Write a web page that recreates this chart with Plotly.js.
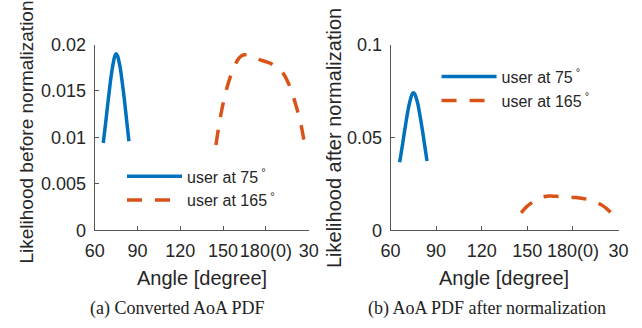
<!DOCTYPE html>
<html>
<head>
<meta charset="utf-8">
<script src="https://cdn.plot.ly/plotly-3.0.1.min.js"></script>
<style>html,body{margin:0;padding:0;background:#fff;}#chart{width:642px;height:328px;}</style>
</head>
<body>
<div id="chart"></div>
<script>
// Angles (degrees, 180 onwards wraps: 210 shown as "30")
const blueAngles = [66,67,68,69,70,71,72,73,74,75,76,77,78,79,80,81,82,83,84];
const blueBefore = [0.0094,0.0107,0.0120,0.0134,0.0147,0.0160,0.0171,0.0180,0.0187,0.0190,0.0188,0.0182,0.0174,0.0163,0.0151,0.0138,0.0124,0.0110,0.0096];
const blueAfter  = [0.0367,0.0417,0.0468,0.0523,0.0573,0.0624,0.0667,0.0702,0.0729,0.0741,0.0733,0.0710,0.0679,0.0636,0.0589,0.0538,0.0484,0.0429,0.0374];

const orangeAngles = [145,147,149,151,153,155,157,159,161,163,165,167,169,171,173,175,177,179,181,183,185,187,189,191,193,195,197,199,201,203,205,207];
const orangeBefore = [0.0092,0.0112,0.0129,0.0143,0.0155,0.0165,0.0173,0.0180,0.0185,0.0188,0.0189,0.0189,0.0188,0.0186,0.0185,0.0184,0.0183,0.0182,0.0181,0.0180,0.0178,0.0176,0.0173,0.0171,0.0167,0.0161,0.0154,0.0145,0.0135,0.0124,0.0111,0.0094];
const orangeAfterAngles = [146,148,150,152,154,156,158,160,162,164,166,168,170,172,174,176,178,180,182,184,186,188,190,192,194,196,198,200,202,204,205];
const orangeAfter = [0.0095,0.0115,0.0131,0.0144,0.0156,0.0166,0.0174,0.0180,0.0183,0.0185,0.0185,0.0184,0.0183,0.0182,0.0181,0.0180,0.0179,0.0178,0.0177,0.0175,0.0173,0.0170,0.0167,0.0162,0.0156,0.0149,0.0141,0.0131,0.0119,0.0104,0.0096];

const xTickVals = [60,90,120,150,180,210];
const xTickText = ['60','90','120','150','180(0)','30'];
const yTickVals1 = [0,0.005,0.01,0.015,0.02];
const yTickText1 = ['0','0.005','0.01','0.015','0.02'];
const yTickVals2 = [0,0.05,0.1];
const yTickText2 = ['0','0.05','0.1'];

const seriesNames = ['user at 75<sup> °</sup>','user at 165<sup> °</sup>'];
const captions = ['(a) Converted AoA PDF','(b) AoA PDF after normalization'];
const yTitles = ['Likelihood before normalization','Likelihood after normalization'];
const xTitle = 'Angle [degree]';

const BLUE = '#0072BD', ORANGE = '#D95319';
const lineW = 3.5;
const dashPat = '15px,13px';

const traces = [
  {x: blueAngles, y: blueBefore, xaxis:'x', yaxis:'y', mode:'lines', name: seriesNames[0],
   line:{color:BLUE, width:lineW, shape:'spline'}, legend:'legend'},
  {x: orangeAngles, y: orangeBefore, xaxis:'x', yaxis:'y', mode:'lines', name: seriesNames[1],
   line:{color:ORANGE, width:lineW, dash:dashPat, shape:'spline'}, legend:'legend'},
  {x: blueAngles, y: blueAfter, xaxis:'x2', yaxis:'y2', mode:'lines', name: seriesNames[0],
   line:{color:BLUE, width:lineW, shape:'spline'}, legend:'legend2'},
  {x: orangeAfterAngles, y: orangeAfter, xaxis:'x2', yaxis:'y2', mode:'lines', name: seriesNames[1],
   line:{color:ORANGE, width:lineW, dash:dashPat, shape:'spline'}, legend:'legend2'}
];

const axCommon = {
  showline:true, linecolor:'#555', linewidth:1, mirror:false,
  showgrid:false, zeroline:false, ticks:'inside', ticklen:4, tickcolor:'#555', tickwidth:1,
  tickfont:{family:'Liberation Sans, Arial, sans-serif', size:18, color:'#262626'},
  tickangle:0, fixedrange:true
};
const yDom = [0.2973, 0.8643];

const layout = {
  width:642, height:328,
  margin:{l:0,r:0,t:0,b:0},
  paper_bgcolor:'#fff', plot_bgcolor:'rgba(0,0,0,0)',
  font:{family:'Liberation Sans, Arial, sans-serif', color:'#262626'},
  xaxis: Object.assign({}, axCommon, {domain:[0.1475,0.4808], range:[60,210], tickmode:'array', tickvals:xTickVals, ticktext:xTickText, anchor:'y', ticklabelstandoff:4}),
  yaxis: Object.assign({}, axCommon, {domain:yDom, range:[0,0.02], tickmode:'array', tickvals:yTickVals1, ticktext:yTickText1, anchor:'x', ticklabelstandoff:4}),
  xaxis2: Object.assign({}, axCommon, {domain:[0.6083,0.9634], range:[60,210], tickmode:'array', tickvals:xTickVals, ticktext:xTickText, anchor:'y2', ticklabelstandoff:4}),
  yaxis2: Object.assign({}, axCommon, {domain:yDom, range:[0,0.1], tickmode:'array', tickvals:yTickVals2, ticktext:yTickText2, anchor:'x2', ticklabelstandoff:4}),
  showlegend:true,
  legend:{x:0.19, y:0.514, xanchor:'left', yanchor:'top', bgcolor:'rgba(0,0,0,0)', borderwidth:0,
          font:{size:16, color:'#262626'}, itemwidth:55, tracegroupgap:0},
  legend2:{x:0.68, y:0.818, xanchor:'left', yanchor:'top', bgcolor:'rgba(0,0,0,0)', borderwidth:0,
          font:{size:16, color:'#262626'}, itemwidth:55, tracegroupgap:0},
  annotations:[
    {text:yTitles[0], xref:'paper', yref:'paper', x:25.5/642, y:1-132/328, xanchor:'center', yanchor:'middle', textangle:-90, showarrow:false, font:{size:19, color:'#262626'}},
    {text:yTitles[1], xref:'paper', yref:'paper', x:333.5/642, y:0.5777, xanchor:'center', yanchor:'middle', textangle:-90, showarrow:false, font:{size:20, color:'#262626'}},
    {text:xTitle, xref:'paper', yref:'paper', x:201.7/642, y:0.1535, xanchor:'center', yanchor:'middle', showarrow:false, font:{size:20, color:'#262626'}},
    {text:xTitle, xref:'paper', yref:'paper', x:504.5/642, y:0.1535, xanchor:'center', yanchor:'middle', showarrow:false, font:{size:20, color:'#262626'}},
    {text:captions[0], xref:'paper', yref:'paper', x:178/642, y:0.059, xanchor:'center', yanchor:'middle', showarrow:false, font:{family:'Liberation Serif, Times New Roman, serif', size:18, color:'#222'}},
    {text:captions[1], xref:'paper', yref:'paper', x:487/642, y:0.059, xanchor:'center', yanchor:'middle', showarrow:false, font:{family:'Liberation Serif, Times New Roman, serif', size:18, color:'#222'}}
  ]
};

Plotly.newPlot('chart', traces, layout, {staticPlot:true, displayModeBar:false});
</script>
</body>
</html>
